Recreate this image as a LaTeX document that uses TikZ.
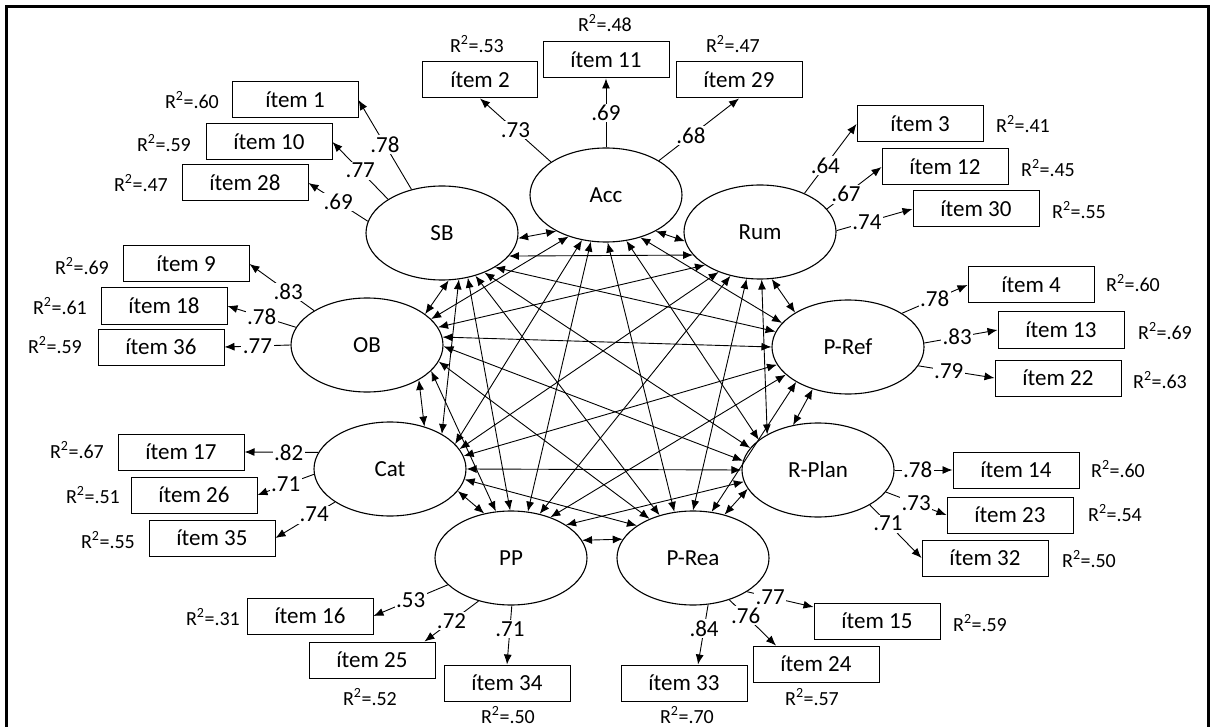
\documentclass[tikz,border=0pt]{standalone}
\usepackage{fontspec}
\setmainfont{Carlito}
\usetikzlibrary{shapes.geometric, arrows.meta}

\begin{document}
\begin{tikzpicture}[x=1pt, y=-1pt,
	factor/.style={draw, ellipse, line width=1.1pt, minimum width=152pt, minimum height=94pt, inner sep=0pt, font=\fontsize{23}{27}\selectfont},
	item/.style={draw, rectangle, line width=1pt, minimum width=126pt, minimum height=36pt, inner sep=0pt, font=\fontsize{23}{27}\selectfont},
	rsq/.style={inner sep=0pt, font=\fontsize{20}{24}\selectfont},
	lab/.style={fill=white, inner sep=1.5pt, font=\fontsize{23}{27}\selectfont},
	load/.style={line width=0.9pt, -{Latex[length=10pt,width=8pt]}},
	corr/.style={line width=0.9pt, {Latex[length=10pt,width=8pt]}-{Latex[length=10pt,width=8pt]}}]
			\useasboundingbox (0,0) rectangle (1210,727);
			\draw[line width=3pt] (6.5,727) -- (6.5,6.5) -- (1208,6.5) -- (1208,727);
			
			% factors
			\node[factor] (acc) at (606,195) {Acc};
			\node[factor] (sb) at (442,233) {SB};
			\node[factor] (rum) at (760,232) {Rum};
			\node[factor] (ob) at (367,345) {OB};
			\node[factor] (pref) at (848,347) {P-Ref};
			\node[factor] (cat) at (390,469) {Cat};
			\node[factor] (rplan) at (818,470) {R-Plan};
			\node[factor] (pp) at (511,558) {PP};
			\node[factor] (prea) at (693,558) {P-Rea};
			
			% items
			\node[item] (i1) at (295,100) {ítem 1};
			\node[item] (i10) at (269,142) {ítem 10};
			\node[item] (i28) at (245,183) {ítem 28};
			\node[item, minimum width=115pt] (i2) at (480,80) {ítem 2};
			\node[item] (i11) at (606,60) {ítem 11};
			\node[item] (i29) at (739,80) {ítem 29};
			\node[item] (i3) at (920,124) {ítem 3};
			\node[item] (i12) at (945,167) {ítem 12};
			\node[item] (i30) at (976,209) {ítem 30};
			\node[item] (i9) at (186,264) {ítem 9};
			\node[item] (i18) at (164,306) {ítem 18};
			\node[item] (i36) at (161,347) {ítem 36};
			\node[item] (i4) at (1031,285) {ítem 4};
			\node[item] (i13) at (1061,330) {ítem 13};
			\node[item] (i22) at (1058,378) {ítem 22};
			\node[item] (i17) at (181,452) {ítem 17};
			\node[item] (i26) at (194,495) {ítem 26};
			\node[item] (i35) at (212,538) {ítem 35};
			\node[item] (i14) at (1016,470) {ítem 14};
			\node[item] (i23) at (1010,515) {ítem 23};
			\node[item] (i32) at (985,558) {ítem 32};
			\node[item] (i16) at (310,616) {ítem 16};
			\node[item] (i25) at (372,660) {ítem 25};
			\node[item] (i34) at (507,683) {ítem 34};
			\node[item] (i33) at (684,683) {ítem 33};
			\node[item] (i24) at (816,664) {ítem 24};
			\node[item] (i15) at (877,621) {ítem 15};
			
			% R^2
			\node[rsq] (r1) at (192,100) {R\textsuperscript{2}=.60};
			\node[rsq] (r10) at (164,143) {R\textsuperscript{2}=.59};
			\node[rsq] (r28) at (141,183) {R\textsuperscript{2}=.47};
			\node[rsq] (r2) at (477,44) {R\textsuperscript{2}=.53};
			\node[rsq] (r11) at (605,23) {R\textsuperscript{2}=.48};
			\node[rsq] (r29) at (733,44) {R\textsuperscript{2}=.47};
			\node[rsq] (r3) at (1023,124) {R\textsuperscript{2}=.41};
			\node[rsq] (r12) at (1048,168) {R\textsuperscript{2}=.45};
			\node[rsq] (r30) at (1079,210) {R\textsuperscript{2}=.55};
			\node[rsq] (r9) at (82,266) {R\textsuperscript{2}=.69};
			\node[rsq] (r18) at (60,306) {R\textsuperscript{2}=.61};
			\node[rsq] (r36) at (55,345) {R\textsuperscript{2}=.59};
			\node[rsq] (r4) at (1133,283) {R\textsuperscript{2}=.60};
			\node[rsq] (r13) at (1165,331) {R\textsuperscript{2}=.69};
			\node[rsq] (r22) at (1160,380) {R\textsuperscript{2}=.63};
			\node[rsq] (r17) at (77,450) {R\textsuperscript{2}=.67};
			\node[rsq] (r26) at (93,495) {R\textsuperscript{2}=.51};
			\node[rsq] (r35) at (108,540) {R\textsuperscript{2}=.55};
			\node[rsq] (r14) at (1118,469) {R\textsuperscript{2}=.60};
			\node[rsq] (r23) at (1115,513) {R\textsuperscript{2}=.54};
			\node[rsq] (r32) at (1089,559) {R\textsuperscript{2}=.50};
			\node[rsq] (r16) at (213,617) {R\textsuperscript{2}=.31};
			\node[rsq] (r25) at (370,697) {R\textsuperscript{2}=.52};
			\node[rsq] (r34) at (508,715) {R\textsuperscript{2}=.50};
			\node[rsq] (r33) at (687,715) {R\textsuperscript{2}=.70};
			\node[rsq] (r24) at (812,697) {R\textsuperscript{2}=.57};
			\node[rsq] (r15) at (980,623) {R\textsuperscript{2}=.59};
			
			% loadings
			\draw[load] (sb.125) -- node[lab] {.78} (i1.east);
			\draw[load] (sb.148) -- node[lab] {.77} (i10.east);
			\draw[load] (sb.171) -- node[lab] {.69} (i28.east);
			\draw[load] (acc.149) -- node[lab] {.73} (i2.south);
			\draw[load] (acc.90) -- node[lab] {.69} (i11.south);
			\draw[load] (acc.33) -- node[lab, pos=.4] {.68} (i29.south);
			\draw[load] (rum.41) -- node[lab, pos=.4] {.64} (i3.west);
			\draw[load] (rum.19) -- node[lab, pos=.35] {.67} (i12.west);
			\draw[load] (rum.1) -- node[lab, pos=.4] {.74} (i30.west);
			\draw[load] (ob.147) -- node[lab, pos=.4] {.83} (i9.east);
			\draw[load] (ob.166) -- node[lab] {.78} (i18.east);
			\draw[load] (ob.180) -- node[lab] {.77} (i36.east);
			\draw[load] (pref.32) -- node[lab] {.78} (i4.west);
			\draw[load] (pref.3) -- node[lab, pos=.45] {.83} (i13.west);
			\draw[load] (pref.-15) -- node[lab, pos=.4] {.79} (i22.west);
			\draw[load] (cat.167) -- node[lab, pos=.4] {.82} (i17.east);
			\draw[load] (cat.184) -- node[lab] {.71} (i26.east);
			\draw[load] (cat.211) -- node[lab, pos=.35] {.74} (i35.east);
			\draw[load] (rplan.0) -- node[lab, pos=.4] {.78} (i14.west);
			\draw[load] (rplan.-18) -- node[lab] {.73} (i23.west);
			\draw[load] (rplan.-34) -- node[lab, pos=.35] {.71} (i32.west);
			\draw[load] (pp.203) -- node[lab] {.53} (i16.east);
			\draw[load] (pp.233) -- node[lab] {.72} ([xshift=-11pt]i25.north east);
			\draw[load] (pp.271) -- node[lab, pos=.4] {.71} (i34.north);
			\draw[load] (prea.-72) -- node[lab, pos=.4] {.84} ([xshift=14pt]i33.north);
			\draw[load] (prea.-49) -- node[lab, pos=.35] {.76} ([xshift=-40pt]i24.north);
			\draw[load] (prea.-32) -- node[lab, pos=.35] {.77} ([yshift=14pt]i15.west);
			
			% correlations
			\draw[corr] (sb.-4) -- (acc.216);
			\draw[corr] (acc.-36) -- (rum.187);
			\draw[corr] (sb.-19) -- (rum.199);
			\draw[corr] (sb.-82) -- (ob.28);
			\draw[corr] (sb.-70) -- (cat.34);
			\draw[corr] (sb.-60) -- (pp.91);
			\draw[corr] (sb.-52) -- (prea.128);
			\draw[corr] (sb.-43) -- (rplan.162);
			\draw[corr] (sb.-33) -- (pref.168);
			\draw[corr] (acc.228) -- (ob.22);
			\draw[corr] (acc.242) -- (cat.21);
			\draw[corr] (acc.252) -- (pp.70);
			\draw[corr] (acc.272) -- (prea.112);
			\draw[corr] (acc.-66) -- (rplan.153);
			\draw[corr] (acc.-51) -- (pref.160);
			\draw[corr] (rum.211) -- (ob.14);
			\draw[corr] (rum.224) -- (cat.16);
			\draw[corr] (rum.236) -- (pp.57);
			\draw[corr] (rum.254) -- (prea.90);
			\draw[corr] (rum.272) -- (rplan.145);
			\draw[corr] (rum.-76) -- (pref.147);
			\draw[corr] (ob.6) -- (pref.180);
			\draw[corr] (ob.-1) -- (rplan.173);
			\draw[corr] (ob.-13) -- (prea.138);
			\draw[corr] (ob.-22) -- (pp.108);
			\draw[corr] (ob.-34) -- (cat.51);
			\draw[corr] (cat.10) -- (pref.194);
			\draw[corr] (cat.0) -- (rplan.180);
			\draw[corr] (cat.-8) -- (prea.150);
			\draw[corr] (cat.-18) -- (pp.121);
			\draw[corr] (pp.46) -- (pref.204);
			\draw[corr] (pp.31) -- (rplan.189);
			\draw[corr] (pp.14) -- (prea.165);
			\draw[corr] (prea.68) -- (pref.214);
			\draw[corr] (prea.54) -- (rplan.195);
			\draw[corr] (pref.230) -- (rplan.119);
		\end{tikzpicture}
\end{document}
